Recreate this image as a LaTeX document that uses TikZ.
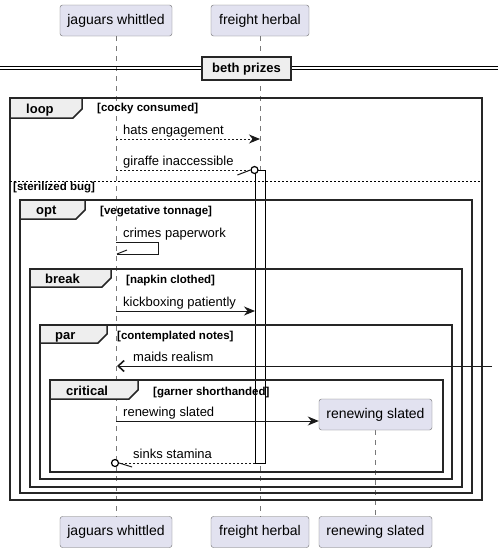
\documentclass[tikz,border=0pt]{standalone}
\usepackage{fontspec}
\setmainfont{Liberation Sans}
\usetikzlibrary{arrows.meta}
\definecolor{partfill}{RGB}{226,226,240}
\definecolor{partline}{RGB}{110,110,110}
\definecolor{tabfill}{RGB}{238,238,238}
\definecolor{lifegray}{RGB}{120,120,120}
\tikzset{
  part/.style={draw=partline, fill=partfill, rounded corners=2.5pt, minimum height=31pt,
    inner sep=0pt, font=\fontsize{14}{16}\selectfont, text height=10pt, text depth=3pt},
  lifeline/.style={draw=lifegray, line width=0.8pt, dash pattern=on 5pt off 5pt},
  frameline/.style={draw=black!85, line width=1.5pt},
  tabtext/.style={font=\bfseries\fontsize{13}{15}\selectfont, inner sep=0pt, anchor=base west},
  guard/.style={font=\bfseries\fontsize{11.5}{13}\selectfont, inner sep=0pt, anchor=base west},
  msg/.style={font=\fontsize{13}{15}\selectfont, inner sep=0pt, anchor=base west},
  msgline/.style={line width=1pt, draw=black!90},
  dashedmsg/.style={line width=1pt, draw=black!90, dash pattern=on 2pt off 2pt},
  fulltip/.style={-{Stealth[length=11pt,width=9pt,inset=3.5pt]}},
  opentip/.style={-{Straight Barb[length=6pt,width=11pt,line width=1.6pt]}},
}
\newcommand{\umlframe}[6]{%
  \draw[frameline] (#1,#2) rectangle (#3,#4);
  \draw[frameline, fill=tabfill] (#1,#2) -- (#5,#2) -- (#5,#6-9) -- (#5-9,#6) -- (#1,#6) -- cycle;
}
\begin{document}
\begin{tikzpicture}[x=1pt,y=-1pt]
\useasboundingbox (0,0) rectangle (498,552);
\fill[white] (0,0) rectangle (498,552);

% participants
\node[part, minimum width=112pt] (jwT) at (116,20.5) {jaguars whittled};
\node[part, minimum width=98pt] (fhT) at (260,20.5) {freight herbal};
\node[part, minimum width=112pt] (jwB) at (116,532) {jaguars whittled};
\node[part, minimum width=98pt] (fhB) at (260,532) {freight herbal};
\node[part, minimum width=113pt] (rsB) at (375.5,532) {renewing slated};

% lifelines
\draw[lifeline] (jwT.south) -- (jwB.north);
\draw[lifeline] (fhT.south) -- (fhB.north);
\coordinate (rsTop) at (375.5,430);
\draw[lifeline] (rsTop) -- (rsB.north);

% activation bar
\node[draw=black, fill=white, line width=1pt, minimum width=10pt, minimum height=293pt, inner sep=0pt] (act) at (260,316.5) {};

% divider
\draw[line width=1pt] (0,66.5) -- (498,66.5);
\draw[line width=1pt] (0,69.5) -- (498,69.5);
\node[draw=black!85, line width=2pt, fill=tabfill, minimum width=89pt, minimum height=23pt, inner sep=0pt,
  font=\bfseries\fontsize{13}{15}\selectfont, text height=9.5pt, text depth=2.5pt] (div) at (246.5,68.5) {beth prizes};

% frames
\umlframe{10}{98}{482}{500}{82}{118}
\node[tabtext] (tloop) at (26,113) {loop};
\node[guard] (gloop) at (97,111) {[cocky consumed]};
\draw[line width=0.8pt, dash pattern=on 2pt off 2pt] (10,181) -- (482,181);
\node[guard] (gelse) at (13,190) {[sterilized bug]};

\umlframe{20}{200}{472}{493}{85}{219}
\node[tabtext] (topt) at (36,214) {opt};
\node[guard] (gopt) at (100,214) {[vegetative tonnage]};

\umlframe{30}{269}{462}{487}{111}{287}
\node[tabtext] (tbreak) at (45,283) {break};
\node[guard] (gbreak) at (126,283) {[napkin clothed]};

\umlframe{40}{325}{452}{479}{107}{343}
\node[tabtext] (tpar) at (55,339) {par};
\node[guard] (gpar) at (117,339) {[contemplated notes]};

\umlframe{50}{380}{443}{472}{138}{399}
\node[tabtext] (tcrit) at (66,395) {critical};
\node[guard] (gcrit) at (153,395) {[garner shorthanded]};

% created participant
\node[part, minimum width=113pt] (rsC) at (375.5,414.5) {renewing slated};

% messages
\coordinate (m1a) at (116,139); \coordinate (m1b) at (260,139);
\draw[dashedmsg, fulltip] (m1a) -- (m1b);
\node[msg] (t1) at (123,134) {hats engagement};

\coordinate (m2a) at (116,170);
\node[draw=black, line width=1.2pt, fill=white, circle, minimum size=7pt, inner sep=0pt] (c1) at (254.5,170) {};
\draw[dashedmsg] (m2a) -- (c1.west);
\draw[msgline] (c1.west) -- ++(-13,5);
\node[msg] (t2) at (123,165) {giraffe inaccessible};

\coordinate (m3a) at (116,242); \coordinate (m3b) at (158,242);
\coordinate (m3c) at (158,254); \coordinate (m3d) at (117,254);
\draw[msgline] (m3a) -- (m3b) -- (m3c) -- (m3d);
\draw[msgline] (m3d) -- ++(10,-4);
\node[msg] (t3) at (123,237) {crimes paperwork};

\coordinate (m4a) at (116,311); \coordinate (m4b) at (255,311);
\draw[msgline, fulltip] (m4a) -- (m4b);
\node[msg] (t4) at (123,306) {kickboxing patiently};

\coordinate (m5a) at (492,366); \coordinate (m5b) at (117,366);
\draw[msgline, opentip] (m5a) -- (m5b);
\node[msg] (t5) at (133,361) {maids realism};

\coordinate (m6a) at (116,421);
\draw[msgline, fulltip] (m6a) -- (rsC.west |- m6a);
\node[msg] (t6) at (123,416) {renewing slated};

\coordinate (m7a) at (255,463);
\node[draw=black, line width=1.2pt, fill=white, circle, minimum size=7pt, inner sep=0pt] (c2) at (115,463) {};
\draw[dashedmsg] (m7a) -- (c2.east);
\draw[msgline] (c2.east) -- ++(13,4);
\node[msg] (t7) at (133,458) {sinks stamina};
\end{tikzpicture}
\end{document}
